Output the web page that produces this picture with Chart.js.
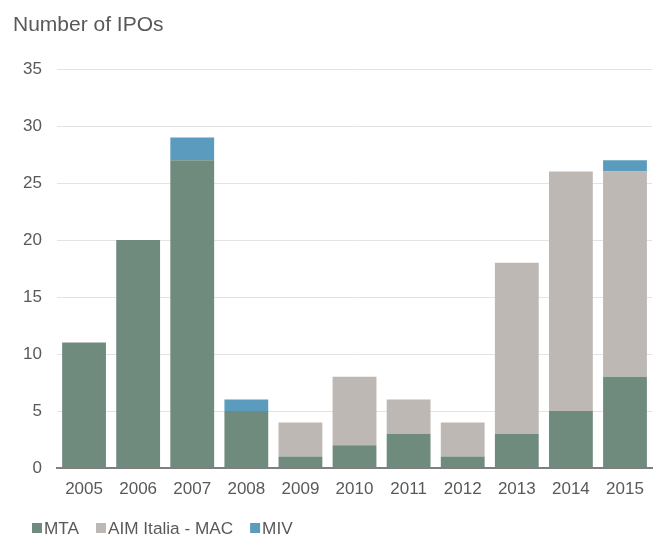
<!DOCTYPE html>
<html>
<head>
<meta charset="utf-8">
<script src="https://cdn.jsdelivr.net/npm/chart.js@4/dist/chart.umd.min.js"></script>
<style>
  html, body { margin: 0; padding: 0; background: #fff; }
  #wrap { width: 655px; height: 536px; }
</style>
</head>
<body>
<div id="wrap"><canvas id="c" width="655" height="536"></canvas></div>
<script>
// IPOs per year by market segment
const years = ['2005','2006','2007','2008','2009','2010','2011','2012','2013','2014','2015'];
const mta   = [11, 20, 27, 5, 1, 2, 3, 1, 3, 5, 8];
const aim   = [0, 0, 0, 0, 3, 6, 3, 3, 15, 21, 18];
const miv   = [0, 0, 2, 1, 0, 0, 0, 0, 0, 0, 1];
const yTicks = [0, 5, 10, 15, 20, 25, 30, 35];

const FONT = '"Liberation Sans", Arial, sans-serif';
const TEXT = '#595959';
const TITLE = 'Number of IPOs';

const barStyle = { barPercentage: 0.81, categoryPercentage: 1.0, borderWidth: 0 };

// Title at the top-left and a compact legend along the bottom edge
const decorations = {
  id: 'decorations',
  afterDraw(chart) {
    const ctx = chart.ctx;
    ctx.save();
    ctx.fillStyle = TEXT;
    ctx.textBaseline = 'alphabetic';
    ctx.textAlign = 'left';
    ctx.font = '21px ' + FONT;
    ctx.fillText(TITLE, 13, 31);

    ctx.font = '17.2px ' + FONT;
    let x = 32;
    const y = 534;
    chart.data.datasets.forEach((ds) => {
      ctx.fillStyle = ds.backgroundColor;
      ctx.fillRect(x, y - 11, 10, 10);
      ctx.fillStyle = TEXT;
      ctx.fillText(ds.label, x + 12, y);
      x += 12 + ctx.measureText(ds.label).width + 17;
    });
    ctx.restore();
  }
};

new Chart(document.getElementById('c'), {
  type: 'bar',
  data: {
    labels: years,
    datasets: [
      Object.assign({ label: 'MTA', data: mta, backgroundColor: '#6f8b7e' }, barStyle),
      Object.assign({ label: 'AIM Italia - MAC', data: aim, backgroundColor: '#bdb8b4' }, barStyle),
      Object.assign({ label: 'MIV', data: miv, backgroundColor: '#5b9cbe' }, barStyle)
    ]
  },
  plugins: [decorations],
  options: {
    responsive: false,
    animation: false,
    devicePixelRatio: 1,
    layout: { padding: { left: 0, right: 2, top: 69, bottom: 0 } },
    plugins: {
      title: { display: false },
      legend: { display: false },
      tooltip: { enabled: false }
    },
    scales: {
      x: {
        stacked: true,
        afterFit: (s) => { s.height = 68; },
        grid: { display: false, drawTicks: false },
        border: { display: true, color: '#7f7f7f', width: 2 },
        ticks: { color: TEXT, font: { family: FONT, size: 17 }, padding: 11 }
      },
      y: {
        stacked: true,
        min: 0,
        max: 35,
        afterFit: (s) => { s.width = 57; },
        afterBuildTicks: (axis) => { axis.ticks = yTicks.map(v => ({ value: v })); },
        grid: { color: '#e3e3e3', lineWidth: 1, drawTicks: false },
        border: { display: false },
        ticks: { color: TEXT, font: { family: FONT, size: 17 }, padding: 15 }
      }
    }
  }
});
</script>
</body>
</html>
